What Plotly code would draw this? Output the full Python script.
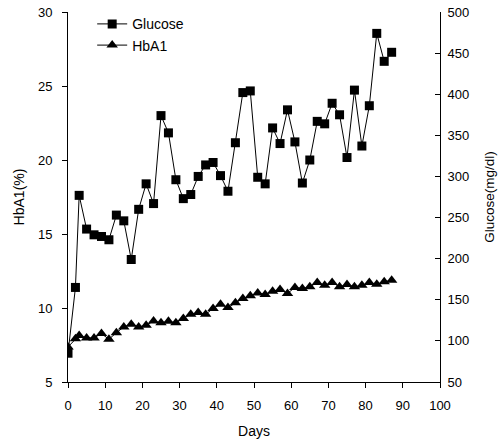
import plotly.graph_objects as go

days_glucose = [0, 2, 3, 5, 7, 9, 11, 13, 15, 17, 19, 21, 23, 25, 27, 29, 31, 33, 35, 37, 39, 41,
                43, 45, 47, 49, 51, 53, 55, 57, 59, 61, 63, 65, 67, 69, 71, 73, 75, 77, 79, 81,
                83, 85, 87]
glucose = [85, 165, 277, 236, 229, 227, 223, 253, 246, 199, 260, 291, 267, 374, 353, 296, 273,
           278, 300, 314, 317, 301, 282, 341, 402, 404, 299, 291, 359, 340, 381, 342, 292, 320,
           367, 364, 389, 375, 323, 405, 337, 386, 474, 440, 451]

days_hba1 = days_glucose
hba1 = [7.37, 7.93, 8.15, 7.98, 7.98, 8.27, 7.89, 8.33, 8.72, 8.9, 8.72, 8.83, 9.12, 9.0, 9.1,
        9.0, 9.29, 9.58, 9.7, 9.58, 9.96, 10.26, 10.03, 10.35, 10.64, 10.82, 11.02, 10.91, 11.14,
        11.25, 10.98, 11.39, 11.32, 11.43, 11.72, 11.54, 11.72, 11.43, 11.59, 11.43, 11.54, 11.72,
        11.61, 11.77, 11.88]

x_ticks = [0, 10, 20, 30, 40, 50, 60, 70, 80, 90, 100]
hba1_ticks = [5, 10, 15, 20, 25, 30]
glucose_ticks = [50, 100, 150, 200, 250, 300, 350, 400, 450, 500]

FONT = "Liberation Sans, Arial, sans-serif"

fig = go.Figure()
fig.add_trace(go.Scatter(
    x=days_glucose, y=glucose, name="Glucose", yaxis="y2",
    mode="lines+markers",
    line=dict(color="black", width=1),
    marker=dict(symbol="square", size=9, color="black"),
))
fig.add_trace(go.Scatter(
    x=days_hba1, y=hba1, name="HbA1", yaxis="y",
    mode="lines+markers",
    line=dict(color="black", width=1),
    marker=dict(symbol="triangle-up", size=10, color="black"),
))

fig.update_layout(
    width=503, height=439,
    margin=dict(l=68, r=63, t=12, b=57, autoexpand=False),
    paper_bgcolor="white", plot_bgcolor="white",
    font=dict(family=FONT, size=13, color="black"),
    showlegend=True,
    legend=dict(x=0.065, y=1.01, xanchor="left", yanchor="top",
                bgcolor="rgba(0,0,0,0)", font=dict(size=14),
                tracegroupgap=0, itemwidth=30),
    xaxis=dict(
        range=[0, 100], tickmode="array", tickvals=x_ticks,
        showgrid=False, zeroline=False, showline=True, linecolor="black", linewidth=1,
        ticks="outside", ticklen=5, tickcolor="black", ticklabelstandoff=6,
        title=dict(text="Days", standoff=14, font=dict(size=14)),
        automargin=False,
    ),
    yaxis=dict(
        range=[5, 30], tickmode="array", tickvals=hba1_ticks,
        showgrid=False, zeroline=False, showline=True, linecolor="black", linewidth=1,
        ticks="outside", ticklen=5, tickcolor="black", ticklabelstandoff=7,
        title=dict(text="HbA1(%)", standoff=10, font=dict(size=14)),
        automargin=False,
    ),
    yaxis2=dict(
        range=[50, 500], tickmode="array", tickvals=glucose_ticks,
        overlaying="y", side="right",
        showgrid=False, zeroline=False, showline=True, linecolor="black", linewidth=1,
        ticks="inside", ticklen=5, tickcolor="black", ticklabelstandoff=4,
        title=dict(text="Glucose(mg/dl)", standoff=16, font=dict(size=13.5)),
        automargin=False,
    ),
)

fig.write_html("out.html")
